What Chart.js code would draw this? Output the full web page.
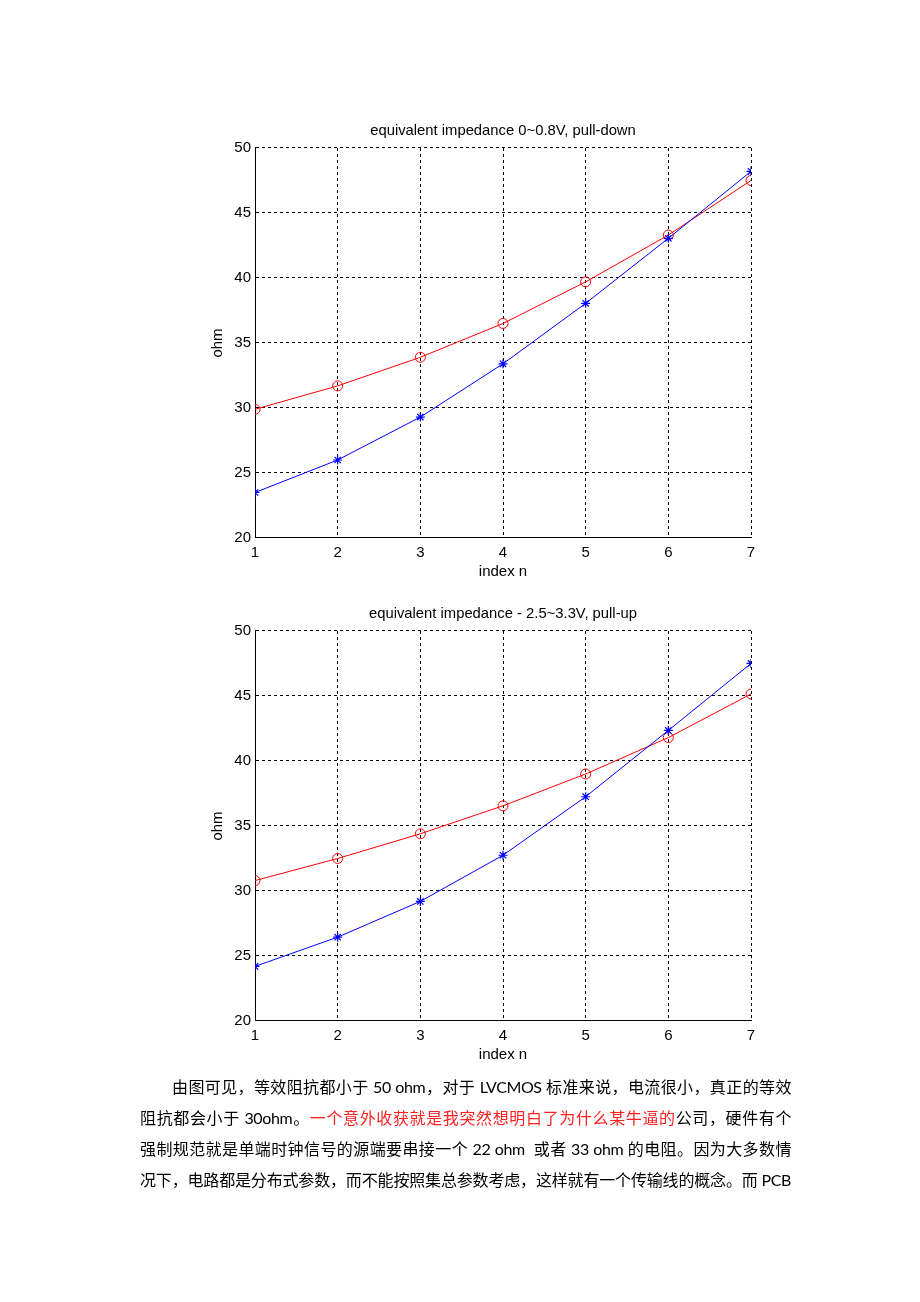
<!DOCTYPE html>
<html>
<head>
<meta charset="utf-8">
<title>equivalent impedance</title>
<script src="https://cdn.jsdelivr.net/npm/chart.js@4.4.0/dist/chart.umd.min.js"></script>
<style>
    body { margin: 0; background: #fff; width: 920px; height: 1302px; position: relative; overflow: hidden; }
    .plot { position: absolute; left: 180px; width: 600px; height: 480px; }
    #chart1 { top: 110px; }
    #chart2 { top: 593px; }
    #para {
        position: absolute; left: 140px; top: 1071px; width: 651px;
        font-family: Lato, "Noto Sans CJK SC", sans-serif; font-size: 16px; line-height: 31px; color: #000;
    }
    #para div { text-align: justify; text-align-last: justify; letter-spacing: -0.4px; }
    #para .first { text-indent: 2em; }
    .red { color: #ff2020; }
</style>
</head>
<body>
<div class="plot" id="chart1"><canvas id="canvas1"></canvas></div>
<div class="plot" id="chart2"><canvas id="canvas2"></canvas></div>
<div id="para">
    <div class="first">由图可见，等效阻抗都小于 50 ohm，对于 LVCMOS 标准来说，电流很小，真正的等效</div>
    <div>阻抗都会小于 30ohm。<span class="red">一个意外收获就是我突然想明白了为什么某牛逼的</span>公司，硬件有个</div>
    <div>强制规范就是单端时钟信号的源端要串接一个 22 ohm&nbsp; 或者 33 ohm 的电阻。因为大多数情</div>
    <div>况下，电路都是分布式参数，而不能按照集总参数考虑，这样就有一个传输线的概念。而 PCB</div>
</div>
<script>
// Data
const indexN = [1, 2, 3, 4, 5, 6, 7];
const yTicks = [20, 25, 30, 35, 40, 45, 50];

// pull-down, 0~0.8V
const pullDownCircle = [29.9, 31.7, 33.9, 36.5, 39.7, 43.3, 47.5];
const pullDownStar = [23.5, 26.0, 29.3, 33.4, 38.05, 43.05, 48.2];

// pull-up, 2.5~3.3V
const pullUpCircle = [30.8, 32.5, 34.4, 36.55, 39.0, 41.8, 45.15];
const pullUpStar = [24.2, 26.45, 29.2, 32.75, 37.25, 42.35, 47.5];

Chart.defaults.font.family = '"Liberation Sans", Arial, sans-serif';
Chart.defaults.font.size = 15;
Chart.defaults.color = '#000';

// Turn a value list into {x, y} points over index n
function toPoints(values) {
    return values.map((v, i) => ({ x: indexN[i], y: v }));
}

// Build one MATLAB-like plot
function makePlot(canvasId, titleText, circleValues, starValues) {
    const ctx = document.getElementById(canvasId).getContext('2d');
    return new Chart(ctx, {
        type: 'line',
        data: {
            datasets: [{
                // blue first so it sits on top
                data: toPoints(starValues),
                borderColor: '#0000ff',
                borderWidth: 1,
                pointStyle: 'star',
                pointRadius: 4.5,
                pointBorderColor: '#0000ff',
                pointBorderWidth: 1.2,
                fill: false,
                tension: 0
            }, {
                data: toPoints(circleValues),
                borderColor: '#ff0000',
                borderWidth: 1,
                pointStyle: 'circle',
                pointRadius: 5,
                pointBorderColor: '#ff0000',
                pointBackgroundColor: 'rgba(0,0,0,0)',
                pointBorderWidth: 1,
                fill: false,
                tension: 0
            }]
        },
        options: {
            responsive: false,
            animation: false,
            layout: { padding: { left: 0, right: 29, top: 0, bottom: 0 } },
            plugins: {
                legend: { display: false },
                tooltip: { enabled: false },
                title: {
                    display: true,
                    fullSize: false,   // centre over the plot area, like MATLAB
                    text: titleText,
                    color: '#000',
                    font: { size: 14.8, weight: 'normal' },
                    padding: { top: 12.5, bottom: 7.7 }
                }
            },
            scales: {
                x: {
                    type: 'linear',
                    min: indexN[0],
                    max: indexN[indexN.length - 1],
                    afterFit: s => { s.height = 52; },
                    afterBuildTicks: s => { s.ticks = indexN.map(v => ({ value: v })); },
                    ticks: { padding: 6, color: '#000' },
                    grid: { color: '#000', lineWidth: 1, drawTicks: false },
                    border: { color: '#000', width: 1, dash: [3, 3] },
                    title: { display: true, text: 'index n', color: '#000', padding: { top: 0, bottom: 9 } }
                },
                y: {
                    min: yTicks[0],
                    max: yTicks[yTicks.length - 1],
                    afterFit: s => { s.width = 75; },
                    afterBuildTicks: s => { s.ticks = yTicks.map(v => ({ value: v })); },
                    ticks: { padding: 4, color: '#000' },
                    grid: { color: '#000', lineWidth: 1, drawTicks: false },
                    border: { color: '#000', width: 1, dash: [3, 3] },
                    title: { display: true, text: 'ohm', color: '#000', padding: { top: 29, bottom: 0 } }
                }
            }
        }
    });
}

document.getElementById('canvas1').width = 600;
document.getElementById('canvas1').height = 480;
document.getElementById('canvas2').width = 600;
document.getElementById('canvas2').height = 480;

makePlot('canvas1', 'equivalent impedance 0~0.8V, pull-down', pullDownCircle, pullDownStar);
makePlot('canvas2', 'equivalent impedance - 2.5~3.3V, pull-up', pullUpCircle, pullUpStar);
</script>
</body>
</html>
